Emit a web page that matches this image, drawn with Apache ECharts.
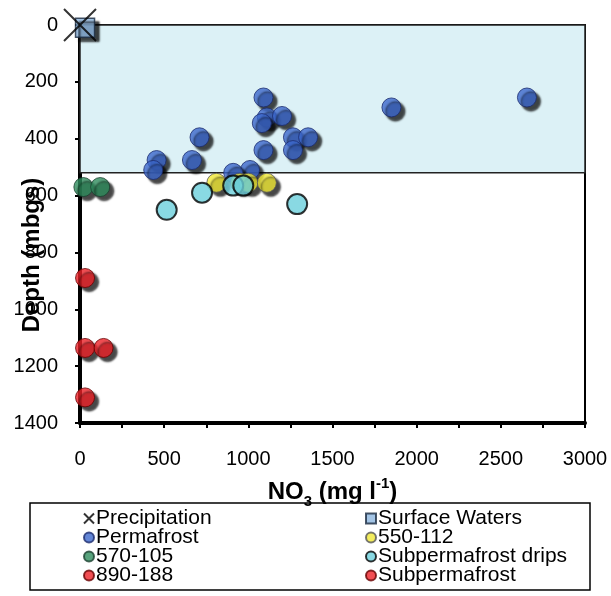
<!DOCTYPE html>
<html><head><meta charset="utf-8">
<script src="https://cdn.jsdelivr.net/npm/echarts@6/dist/echarts.min.js"></script>
<style>html,body{margin:0;padding:0;background:#fff}#c{width:611px;height:596px}</style>
</head><body><div id="c"></div>
<script>
// ---- data: [NO3 (mg/l), depth (mbgs)] ----
const precipitation = [[0, 0]];
const surfaceWaters = [[30, 10]];
const permafrost = [[1090,255],[1110,325],[1080,345],[1200,320],[1265,395],[1355,395],[1090,440],[1265,440],[1850,290],[2655,255],[455,475],[435,510],[665,475],[710,395],[1010,510],[910,520]];
const s550_112 = [[810,555],[950,555],[1000,555],[1110,555]];
const s570_105 = [[20,570],[120,570]];
const subpermafrostDrips = [[725,590],[910,565],[970,565],[515,650],[1290,630]];
const s890_188 = [[30,890]];
const subpermafrost = [[30,1136],[140,1136],[30,1310]];
const permafrostZone = [0, 520];
const legendLeft = ['Precipitation','Permafrost','570-105','890-188'];
const legendRight = ['Surface Waters','550-112','Subpermafrost drips','Subpermafrost'];

const FONT = "'Liberation Sans', Arial, sans-serif";
const shadow = {shadowColor:'rgba(0,0,0,0.9)', shadowBlur:2, shadowOffsetX:4, shadowOffsetY:4};
function sc(name, data, symbol, size, style, z){
  return {name, type:'scatter', data, symbol, symbolSize:size, clip:false, z:z||3,
    itemStyle:Object.assign({}, style), emphasis:{disabled:true}};
}
const chart = echarts.init(document.getElementById('c'), null, {renderer:'canvas'});
const legendCommon = {orient:'vertical', itemWidth:10, itemHeight:10, itemGap:-2, padding:0,
  textStyle:{fontFamily:FONT, fontSize:21, color:'#000', padding:[0,0,0,-3]},
  itemStyle:{shadowBlur:0, shadowOffsetX:0, shadowOffsetY:0, shadowColor:'rgba(0,0,0,0)'}};
chart.setOption({
  animation:false,
  textStyle:{fontFamily:FONT},
  grid:{left:80, right:26, top:25, bottom:173, show:true, borderColor:'#000', borderWidth:2, backgroundColor:'transparent'},
  xAxis:{type:'value', min:0, max:3000, interval:500,
    name:'{b|NO}{sub|3}{b| (mg l}{sup|-1}{b|)}', nameLocation:'middle', nameGap:53,
    nameTextStyle:{rich:{
      b:{fontFamily:FONT, fontSize:24, fontWeight:'bold', color:'#000', lineHeight:28, verticalAlign:'bottom'},
      sub:{fontFamily:FONT, fontSize:15, fontWeight:'bold', color:'#000', verticalAlign:'bottom', padding:[0,0,-5,0]},
      sup:{fontFamily:FONT, fontSize:15, fontWeight:'bold', color:'#000', verticalAlign:'top', padding:[0,0,0,0]}}},
    axisLine:{show:true, onZero:false, lineStyle:{color:'#000', width:4}},
    axisTick:{show:true, inside:false, length:5, lineStyle:{color:'#000', width:2}},
    minorTick:{show:true, splitNumber:2, length:5, lineStyle:{color:'#000', width:2}},
    axisLabel:{fontFamily:FONT, fontSize:20, color:'#000', margin:26, formatter:v=>String(v)},
    splitLine:{show:false}},
  yAxis:{type:'value', min:0, max:1400, interval:200, inverse:true,
    axisLine:{show:true, onZero:false, lineStyle:{color:'#000', width:4}},
    axisTick:{show:true, inside:false, length:5, lineStyle:{color:'#000', width:2}},
    axisLabel:{fontFamily:FONT, fontSize:20, color:'#000', margin:22, formatter:v=>String(v)},
    splitLine:{show:false}},
  legend:[
    Object.assign({left:83, top:508, data:legendLeft}, legendCommon),
    Object.assign({left:365, top:508, data:legendRight}, legendCommon)
  ],
  graphic:[
    {type:'rect', shape:{x:30, y:503, width:560, height:87}, style:{fill:'none', stroke:'#000', lineWidth:1.5}, z:10},
    {type:'text', x:32, y:255, rotation:Math.PI/2,
      style:{text:'Depth (mbgs)', fontFamily:FONT, fontSize:24, fontWeight:'bold', fill:'#000', align:'center', verticalAlign:'middle'}, z:10}
  ],
  series:[
    {name:'zone', type:'scatter', data:[], z:1, silent:true,
      markArea:{silent:true, itemStyle:{color:'#dcf1f6', borderColor:'#222', borderWidth:1.5},
        data:[[{xAxis:0, yAxis:permafrostZone[0]},{xAxis:3000, yAxis:permafrostZone[1]}]]}},
    sc('Precipitation', precipitation, 'path://M0,0L10,10M10,0L0,10', 32,
      {color:'#000', borderColor:'#000', borderWidth:2}, 6),
    sc('Surface Waters', surfaceWaters, 'rect', 19,
      Object.assign({color:'#8db6e0', borderColor:'#1a2a40', borderWidth:1.5}, shadow), 5),
    sc('Permafrost', permafrost, 'circle', 19,
      Object.assign({color:'#3c68cc', borderColor:'#1c2c6e', borderWidth:1}, shadow)),
    sc('550-112', s550_112, 'circle', 19,
      Object.assign({color:'#f0e834', borderColor:'#555', borderWidth:1}, shadow)),
    sc('570-105', s570_105, 'circle', 19,
      Object.assign({color:'#2e8c5c', borderColor:'#1a4030', borderWidth:1}, shadow)),
    sc('Subpermafrost drips', subpermafrostDrips, 'circle', 20,
      {color:'#6ccfdc', borderColor:'#000', borderWidth:2}),
    sc('890-188', s890_188, 'circle', 19,
      Object.assign({color:'#ee2228', borderColor:'#600', borderWidth:1}, shadow)),
    sc('Subpermafrost', subpermafrost, 'circle', 19,
      Object.assign({color:'#ee2228', borderColor:'#600', borderWidth:1}, shadow))
  ]
});
</script></body></html>
